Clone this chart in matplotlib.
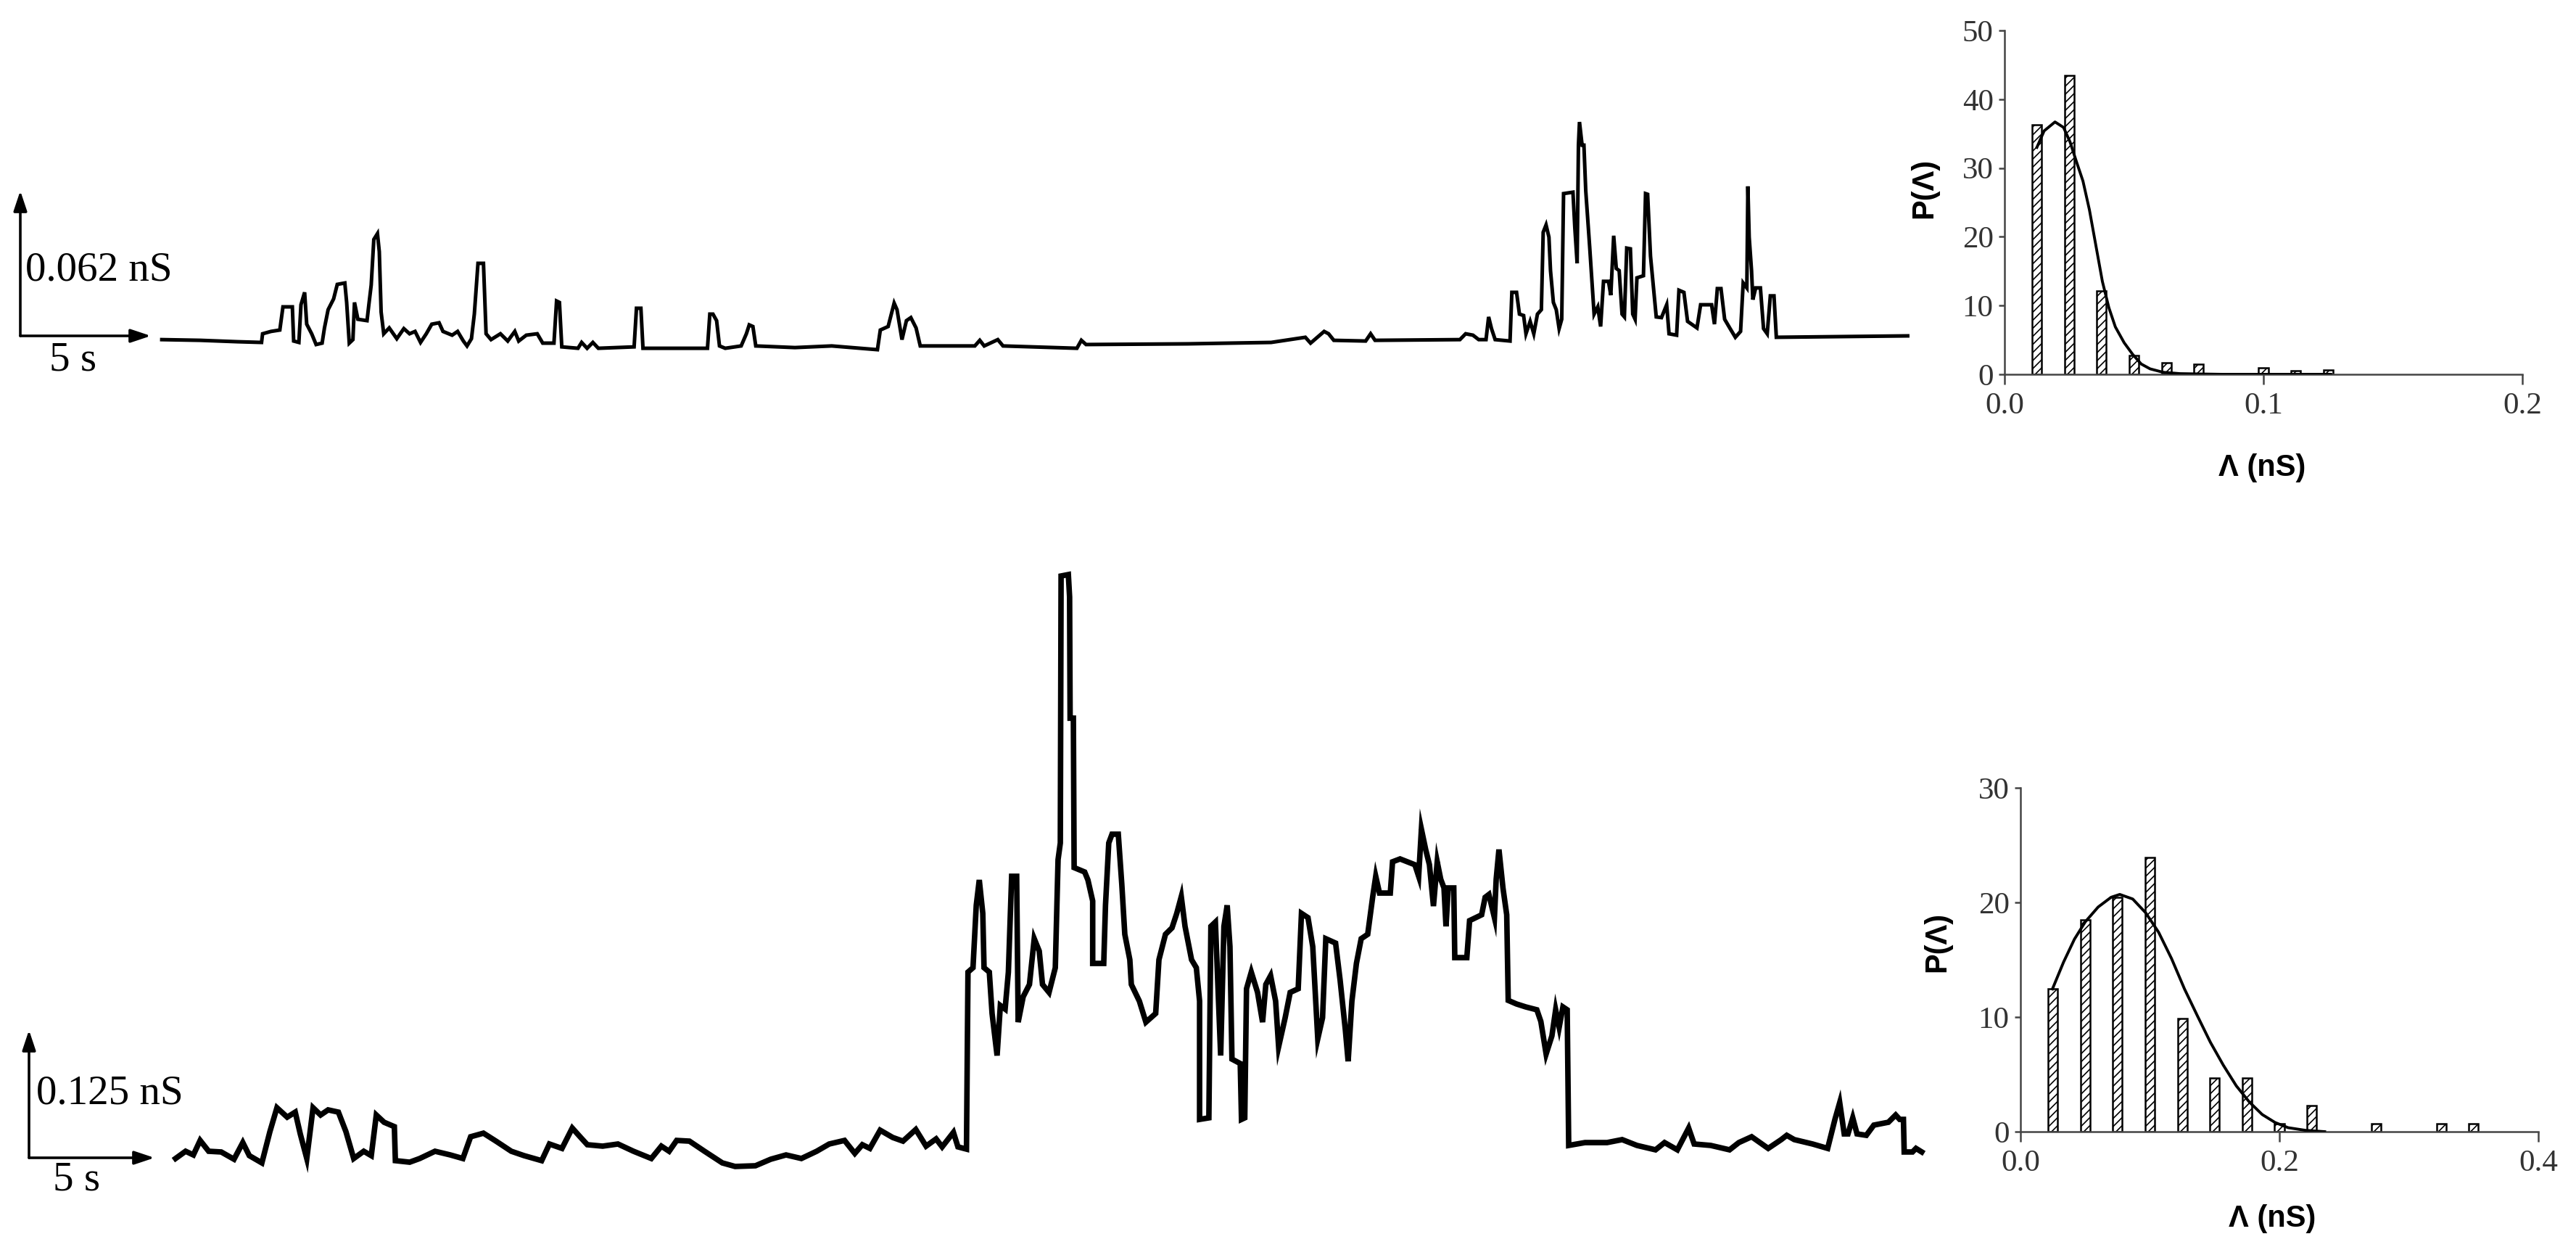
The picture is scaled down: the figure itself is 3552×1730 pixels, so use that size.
import numpy as np
import matplotlib
matplotlib.use('Agg')
import matplotlib.pyplot as plt

plt.rcParams['font.family'] = ['Liberation Serif', 'DejaVu Serif']
plt.rcParams['hatch.linewidth'] = 1.2

# ---- conductance traces, (time s, conductance nS) ----
top_trace = [
    (5.42, -0.0016), (6.90, -0.0019), (8.32, -0.0025), (9.24, -0.0028), (9.28, 0.0009),
    (9.60, 0.0019), (9.94, 0.0025), (10.06, 0.0124), (10.42, 0.0124), (10.47, -0.0022),
    (10.67, -0.0028), (10.75, 0.0133), (10.89, 0.0186), (10.97, 0.0050), (11.16, 0.0009),
    (11.33, -0.0037), (11.56, -0.0031), (11.65, 0.0034), (11.79, 0.0112), (12.00, 0.0158),
    (12.14, 0.0220), (12.43, 0.0226), (12.50, 0.0143), (12.60, -0.0031), (12.74, -0.0016),
    (12.80, 0.0143), (12.93, 0.0071), (13.28, 0.0065), (13.35, 0.0133), (13.44, 0.0217),
    (13.54, 0.0412), (13.68, 0.0437), (13.75, 0.0360), (13.82, 0.0102), (13.92, 0.0009),
    (14.13, 0.0034), (14.42, -0.0012), (14.69, 0.0031), (14.91, 0.0009), (15.12, 0.0019),
    (15.33, -0.0028), (15.55, 0.0009), (15.76, 0.0050), (16.04, 0.0056), (16.19, 0.0019),
    (16.54, 0.0003), (16.75, 0.0019), (16.97, -0.0022), (17.11, -0.0043), (17.28, -0.0012),
    (17.39, 0.0093), (17.53, 0.0310), (17.74, 0.0310), (17.84, 0.0009), (18.03, -0.0016),
    (18.39, 0.0009), (18.67, -0.0022), (18.94, 0.0019), (19.09, -0.0022), (19.38, 0.0003),
    (19.80, 0.0009), (20.01, -0.0031), (20.44, -0.0031), (20.54, 0.0149), (20.65, 0.0143),
    (20.74, -0.0047), (21.36, -0.0053), (21.50, -0.0028), (21.71, -0.0053), (21.93, -0.0028),
    (22.14, -0.0053), (23.51, -0.0047), (23.60, 0.0118), (23.77, 0.0118), (23.85, -0.0053),
    (26.32, -0.0053), (26.41, 0.0093), (26.53, 0.0093), (26.67, 0.0065), (26.78, -0.0043),
    (27.00, -0.0053), (27.61, -0.0043), (27.81, 0.0009), (27.92, 0.0047), (28.06, 0.0040),
    (28.17, -0.0043), (29.67, -0.0050), (31.08, -0.0043), (32.83, -0.0059), (32.94, 0.0025),
    (33.24, 0.0040), (33.47, 0.0140), (33.58, 0.0112), (33.77, -0.0016), (33.94, 0.0065),
    (34.11, 0.0078), (34.31, 0.0034), (34.47, -0.0043), (36.56, -0.0043), (36.75, -0.0019),
    (36.92, -0.0043), (37.44, -0.0016), (37.64, -0.0043), (40.47, -0.0053), (40.64, -0.0019),
    (40.82, -0.0037), (44.72, -0.0034), (47.91, -0.0028), (49.22, -0.0006), (49.42, -0.0031),
    (49.94, 0.0019), (50.11, 0.0009), (50.31, -0.0019), (51.53, -0.0022), (51.72, 0.0009),
    (51.89, -0.0019), (55.14, -0.0016), (55.36, 0.0009), (55.64, 0.0003), (55.86, -0.0016),
    (56.14, -0.0016), (56.24, 0.0081), (56.35, 0.0031), (56.49, -0.0016), (57.06, -0.0022),
    (57.13, 0.0186), (57.31, 0.0186), (57.42, 0.0093), (57.58, 0.0087), (57.67, 0.0009),
    (57.83, 0.0062), (57.97, 0.0009), (58.11, 0.0093), (58.26, 0.0112), (58.33, 0.0443),
    (58.44, 0.0474), (58.55, 0.0422), (58.61, 0.0279), (58.72, 0.0143), (58.83, 0.0112),
    (58.94, 0.0031), (59.04, 0.0071), (59.11, 0.0608), (59.47, 0.0614), (59.54, 0.0465),
    (59.63, 0.0310), (59.68, 0.0815), (59.72, 0.0914), (59.82, 0.0815), (59.89, 0.0815),
    (59.96, 0.0620), (60.11, 0.0381), (60.22, 0.0195), (60.28, 0.0093), (60.42, 0.0124),
    (60.53, 0.0040), (60.64, 0.0233), (60.83, 0.0233), (60.92, 0.0174), (61.03, 0.0428),
    (61.13, 0.0288), (61.24, 0.0279), (61.35, 0.0093), (61.44, 0.0081), (61.53, 0.0375),
    (61.67, 0.0372), (61.76, 0.0093), (61.85, 0.0071), (61.92, 0.0248), (62.17, 0.0257),
    (62.25, 0.0608), (62.33, 0.0605), (62.44, 0.0341), (62.58, 0.0174), (62.66, 0.0081),
    (62.86, 0.0078), (63.06, 0.0133), (63.15, 0.0009), (63.44, 0.0003), (63.53, 0.0195),
    (63.72, 0.0186), (63.86, 0.0062), (64.22, 0.0034), (64.36, 0.0133), (64.78, 0.0133),
    (64.89, 0.0050), (65.00, 0.0202), (65.14, 0.0202), (65.28, 0.0071), (65.49, 0.0031),
    (65.69, -0.0006), (65.89, 0.0019), (65.99, 0.0226), (66.13, 0.0205), (66.17, 0.0639),
    (66.22, 0.0422), (66.31, 0.0279), (66.36, 0.0155), (66.47, 0.0205), (66.65, 0.0205),
    (66.77, 0.0031), (66.91, 0.0009), (67.03, 0.0171), (67.17, 0.0171), (67.26, -0.0006),
    (72.29, 0.0000),
]

bottom_trace = [
    (5.84, -0.0007), (6.24, 0.0064), (6.55, 0.0028), (6.82, 0.0170), (7.16, 0.0064),
    (7.66, 0.0057), (8.17, -0.0014), (8.52, 0.0149), (8.78, 0.0021), (9.28, -0.0050),
    (9.60, 0.0256), (9.88, 0.0490), (10.29, 0.0398), (10.61, 0.0447), (10.81, 0.0234),
    (11.07, -0.0007), (11.32, 0.0490), (11.62, 0.0419), (11.92, 0.0469), (12.33, 0.0447),
    (12.63, 0.0256), (12.94, -0.0007), (13.34, 0.0064), (13.64, 0.0021), (13.84, 0.0419),
    (14.15, 0.0348), (14.56, 0.0305), (14.60, -0.0028), (15.17, -0.0043), (15.57, -0.0007),
    (16.18, 0.0064), (16.79, 0.0028), (17.29, -0.0007), (17.60, 0.0206), (18.11, 0.0241),
    (18.61, 0.0163), (19.22, 0.0064), (19.73, 0.0021), (20.43, -0.0028), (20.74, 0.0135),
    (21.24, 0.0092), (21.65, 0.0291), (21.96, 0.0206), (22.25, 0.0128), (22.86, 0.0114),
    (23.47, 0.0135), (24.09, 0.0064), (24.80, -0.0007), (25.20, 0.0114), (25.51, 0.0064),
    (25.81, 0.0170), (26.32, 0.0163), (26.92, 0.0064), (27.63, -0.0050), (28.14, -0.0085),
    (28.95, -0.0078), (29.56, -0.0014), (30.17, 0.0028), (30.78, -0.0007), (31.39, 0.0064),
    (31.89, 0.0135), (32.50, 0.0170), (32.91, 0.0043), (33.21, 0.0128), (33.51, 0.0092),
    (33.92, 0.0270), (34.42, 0.0199), (34.83, 0.0163), (35.34, 0.0277), (35.75, 0.0114),
    (36.15, 0.0185), (36.39, 0.0107), (36.84, 0.0249), (37.02, 0.0107), (37.36, 0.0085),
    (37.42, 0.1818), (37.62, 0.1861), (37.75, 0.2472), (37.87, 0.2720), (38.01, 0.2393),
    (38.06, 0.1861), (38.27, 0.1818), (38.38, 0.1413), (38.58, 0.1001), (38.71, 0.1491),
    (38.90, 0.1456), (39.03, 0.1818), (39.16, 0.2756), (39.36, 0.2756), (39.42, 0.1328),
    (39.62, 0.1577), (39.87, 0.1697), (40.06, 0.2145), (40.26, 0.2024), (40.39, 0.1697),
    (40.65, 0.1619), (40.90, 0.1861), (41.01, 0.2919), (41.10, 0.3082), (41.13, 0.5696),
    (41.42, 0.5710), (41.47, 0.5490), (41.49, 0.4304), (41.62, 0.4304), (41.65, 0.2841),
    (42.07, 0.2798), (42.20, 0.2720), (42.39, 0.2514), (42.39, 0.1903), (42.83, 0.1903),
    (42.90, 0.2472), (43.03, 0.3082), (43.16, 0.3168), (43.41, 0.3168), (43.55, 0.2678),
    (43.67, 0.2188), (43.87, 0.1939), (43.93, 0.1697), (44.25, 0.1534), (44.51, 0.1328),
    (44.90, 0.1413), (45.03, 0.1939), (45.29, 0.2188), (45.55, 0.2251), (45.74, 0.2393),
    (45.92, 0.2557), (46.07, 0.2266), (46.33, 0.1939), (46.52, 0.1861), (46.65, 0.1534),
    (46.65, 0.0376), (47.02, 0.0391), (47.10, 0.2266), (47.28, 0.2308), (47.49, 0.1001),
    (47.62, 0.2266), (47.75, 0.2472), (47.86, 0.2067), (47.94, 0.0966), (48.27, 0.0923),
    (48.32, 0.0376), (48.45, 0.0391), (48.52, 0.1655), (48.71, 0.1818), (48.96, 0.1619),
    (49.16, 0.1328), (49.29, 0.1697), (49.48, 0.1783), (49.68, 0.1534), (49.80, 0.1087),
    (50.06, 0.1371), (50.26, 0.1619), (50.58, 0.1655), (50.71, 0.2393), (50.97, 0.2351),
    (51.16, 0.2067), (51.36, 0.1165), (51.55, 0.1371), (51.68, 0.2145), (52.07, 0.2102),
    (52.25, 0.1740), (52.46, 0.1250), (52.57, 0.0945), (52.72, 0.1534), (52.90, 0.1903),
    (53.09, 0.2145), (53.35, 0.2188), (53.55, 0.2557), (53.67, 0.2756), (53.82, 0.2592),
    (54.25, 0.2592), (54.34, 0.2898), (54.64, 0.2926), (55.23, 0.2869), (55.38, 0.2756),
    (55.49, 0.3217), (55.66, 0.3018), (55.81, 0.2869), (55.97, 0.2464), (56.12, 0.2898),
    (56.26, 0.2727), (56.39, 0.2642), (56.47, 0.2266), (56.56, 0.2642), (56.78, 0.2642),
    (56.82, 0.1960), (57.30, 0.1960), (57.41, 0.2322), (57.89, 0.2379), (58.03, 0.2550),
    (58.18, 0.2578), (58.40, 0.2351), (58.47, 0.2727), (58.58, 0.3018), (58.74, 0.2642),
    (58.89, 0.2379), (58.95, 0.1541), (59.28, 0.1506), (59.65, 0.1477), (60.09, 0.1449),
    (60.25, 0.1335), (60.46, 0.1016), (60.69, 0.1193), (60.84, 0.1449), (60.98, 0.1278),
    (61.13, 0.1477), (61.30, 0.1449), (61.36, 0.0121), (62.01, 0.0149), (62.89, 0.0149),
    (63.49, 0.0178), (64.08, 0.0121), (64.82, 0.0078), (65.18, 0.0149), (65.69, 0.0078),
    (66.14, 0.0291), (66.36, 0.0135), (67.02, 0.0121), (67.77, 0.0078), (68.14, 0.0149),
    (68.65, 0.0206), (69.31, 0.0092), (69.83, 0.0178), (70.05, 0.0220), (70.35, 0.0178),
    (71.08, 0.0135), (71.68, 0.0092), (71.97, 0.0376), (72.16, 0.0540), (72.34, 0.0234),
    (72.49, 0.0234), (72.68, 0.0391), (72.85, 0.0234), (73.22, 0.0220), (73.52, 0.0320),
    (74.10, 0.0348), (74.39, 0.0419), (74.55, 0.0376), (74.70, 0.0376), (74.73, 0.0057),
    (75.06, 0.0057), (75.20, 0.0092), (75.43, 0.0057),
]

# scale bars: (seconds, nS)
top_scale = (5, 0.062)
bottom_scale = (5, 0.125)

# ---- amplitude histograms ----
top_bins = [0.0125, 0.025, 0.0375, 0.05, 0.0625, 0.075, 0.1, 0.1125, 0.125]
top_counts = [36.3, 43.5, 12.1, 2.7, 1.7, 1.5, 0.9, 0.5, 0.6]
top_fit_x = [0.0125, 0.0153, 0.0195, 0.0228, 0.0253, 0.0278, 0.0303, 0.0328, 0.0353, 0.0378,
             0.0403, 0.0428, 0.0462, 0.0495, 0.0528, 0.0562, 0.0612, 0.0678, 0.0845, 0.126]
top_fit_y = [33.0, 35.4, 36.7, 35.9, 33.8, 30.9, 28.1, 23.9, 18.7, 13.5,
             9.7, 6.9, 4.6, 2.9, 1.5, 0.8, 0.3, 0.1, 0.0, 0.0]

bottom_bins = [0.025, 0.05, 0.075, 0.1, 0.125, 0.15, 0.175, 0.2, 0.225, 0.275, 0.325, 0.35]
bottom_counts = [12.45, 18.5, 20.45, 23.9, 9.9, 4.7, 4.7, 0.7, 2.3, 0.7, 0.7, 0.7]
bottom_fit_x = [0.0247, 0.0333, 0.0417, 0.05, 0.06, 0.07, 0.0767, 0.0867, 0.0967, 0.1067, 0.1167,
                0.1267, 0.1367, 0.1467, 0.1567, 0.1667, 0.1767, 0.1867, 0.1967, 0.2067, 0.22, 0.235]
bottom_fit_y = [12.45, 14.8, 16.8, 18.3, 19.6, 20.45, 20.7, 20.3, 19.1, 17.4, 15.1,
                12.45, 10.1, 7.8, 5.8, 4.0, 2.6, 1.5, 0.8, 0.35, 0.12, 0.0]

W, H = 3552, 1730
fig = plt.figure(figsize=(W / 100, H / 100), dpi=100)


def px_rect(x0, y0, x1, y1):
    # pixel box (top-left origin) -> figure fraction rect
    return [x0 / W, 1 - y1 / H, (x1 - x0) / W, (y1 - y0) / H]


def draw_trace(rect, xlim, ylim, trace, scale, lw, label, label_pos, sec_pos):
    ax = fig.add_axes(rect)
    ax.set_xlim(*xlim)
    ax.set_ylim(*ylim)
    ax.axis('off')
    t, g = np.array(trace).T
    ax.plot(t, g, color='black', lw=lw, solid_joinstyle='miter')
    arrow = dict(arrowstyle='-|>,head_length=0.6,head_width=0.2', lw=2.6, color='black',
                 mutation_scale=28, shrinkA=0, shrinkB=0)
    ax.annotate('', xy=(scale[0], 0), xytext=(0, 0), arrowprops=arrow)
    ax.annotate('', xy=(0, scale[1]), xytext=(0, 0), arrowprops=arrow)
    ax.text(label_pos[0], label_pos[1], label, fontsize=41, ha='left', va='center')
    ax.text(sec_pos[0], sec_pos[1], '5 s', fontsize=41, ha='center', va='center')
    return ax


draw_trace(px_rect(0, 100, 2700, 560), (-28 / 36, 2672 / 36), (-97 / 3226, 363 / 3226),
           top_trace, top_scale, 3.6, '0.062 nS', (0.19, 0.0279), (2.0, -0.0105))
draw_trace(px_rect(0, 700, 2700, 1700), (-40 / 34.6, 2660 / 34.6), (-104 / 1408, 896 / 1408),
           bottom_trace, bottom_scale, 5.5, '0.125 nS', (0.29, 0.0632), (1.88, -0.022))


def draw_hist(rect, bins, counts, width, fit_x, fit_y, xmax, xticks, ymax, ylab_pos, xlab_pos):
    ax = fig.add_axes(rect)
    ax.bar(bins, counts, width=width, facecolor='white', edgecolor='black', lw=1.8,
           hatch='///', zorder=2)
    ax.plot(fit_x, fit_y, color='black', lw=2.8, zorder=3)
    ax.set_xlim(0, xmax)
    ax.set_ylim(0, ymax)
    ax.set_xticks(xticks)
    ax.set_xticklabels(['%.1f' % v for v in xticks])
    ax.set_yticks(np.arange(0, ymax + 1, 10))
    for s in ['top', 'right']:
        ax.spines[s].set_visible(False)
    for s in ['left', 'bottom']:
        ax.spines[s].set_linewidth(1.8)
        ax.spines[s].set_color('#444444')
    ax.tick_params(axis='x', direction='out', length=10, width=1.8, pad=8,
                   labelsize=31, color='#444444', labelcolor='#333333')
    ax.tick_params(axis='y', direction='out', length=6, width=1.8, pad=5,
                   labelsize=31, color='#444444', labelcolor='#333333')
    ax.set_ylabel('P(Λ)', family='Liberation Sans', weight='bold', fontsize=30)
    ax.set_xlabel('Λ (nS)', family='Liberation Sans', weight='bold', fontsize=30)
    ax.yaxis.set_label_coords(*ylab_pos)
    ax.xaxis.set_label_coords(*xlab_pos)
    return ax


draw_hist(px_rect(2764, 42, 3478, 516), top_bins, top_counts, 0.0037, top_fit_x, top_fit_y,
          0.2, [0.0, 0.1, 0.2], 50, (-0.127, 0.542), (0.497, -0.23))
draw_hist(px_rect(2786, 1086, 3500, 1560), bottom_bins, bottom_counts, 0.0073, bottom_fit_x,
          bottom_fit_y, 0.4, [0.0, 0.2, 0.4], 30, (-0.133, 0.551), (0.486, -0.211))

fig.savefig('out.png', dpi=100, facecolor='white')
